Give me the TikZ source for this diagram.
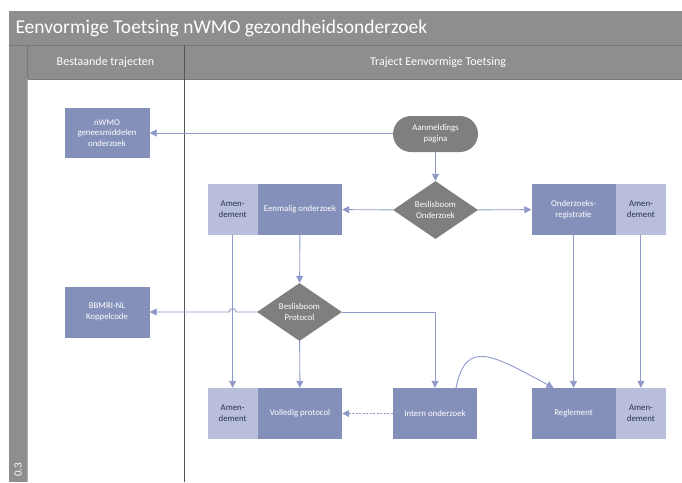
\documentclass[tikz,border=0pt]{standalone}
\usepackage{fontspec}
\setmainfont{Carlito}
\usetikzlibrary{arrows.meta}
\usetikzlibrary{positioning}
\usetikzlibrary{shapes.geometric}

\definecolor{lanegray}{HTML}{8E8E8E}
\definecolor{laneline}{HTML}{797979}
\definecolor{boxblue}{HTML}{8490BA}
\definecolor{amendblue}{HTML}{B9BFDA}
\definecolor{amendtext}{HTML}{27325A}
\definecolor{decgray}{HTML}{7F7F7F}
\definecolor{flowcol}{HTML}{8E99CA}

\begin{document}
\begin{tikzpicture}[x=1pt,y=1pt,
    proc/.style={rectangle, fill=boxblue, text=white, minimum width=84pt, minimum height=51pt,
                 inner sep=1pt, align=center, font=\fontsize{8.8}{10.8}\selectfont},
    amend/.style={rectangle, fill=amendblue, text=amendtext, minimum width=50pt, minimum height=51pt,
                  inner sep=1pt, align=center, font=\fontsize{8.8}{10.8}\selectfont},
    decision/.style={diamond, fill=decgray, text=white, minimum width=85pt, minimum height=51pt,
                     inner sep=0pt, align=center, font=\fontsize{8.8}{10.8}\selectfont},
    startbox/.style={rectangle, rounded corners=18pt, fill=decgray, text=white, minimum width=85pt,
                     minimum height=36pt, inner sep=1pt, align=center, font=\fontsize{8.8}{10.8}\selectfont},
    flow/.style={draw=flowcol, line width=0.9pt, -{Triangle[length=7pt,width=7pt]}},
    lanetext/.style={text=white, font=\fontsize{12}{14}\selectfont}]
\useasboundingbox (0,0) rectangle (682,-482);

% swimlanes
\fill[lanegray] (9,-11) rectangle (682,-45);
\fill[lanegray] (9,-45) rectangle (27,-482);
\fill[lanegray] (27,-45) rectangle (682,-79);
\draw[laneline, line width=1pt] (9,-45) -- (682,-45);
\draw[laneline, line width=0.8pt] (27,-45) -- (27,-79) (27,-79) -- (682,-79);
\draw[laneline!70!black, line width=0.8pt] (184,-45) -- (184,-482);
\draw[laneline!60, line width=0.6pt] (27,-79) -- (27,-482);
\node[anchor=west, text=white, font=\fontsize{19.5}{22}\selectfont] (title) at (12,-28) {Eenvormige Toetsing nWMO gezondheidsonderzoek};
\node[lanetext] (lane1) at (105.5,-62) {Bestaande trajecten};
\node[lanetext] (lane2) at (438,-62) {Traject Eenvormige Toetsing};
\node[text=white, rotate=90, anchor=west, inner sep=1pt, font=\fontsize{11}{13}\selectfont] (version) at (18,-478) {0.3};

% nodes
\node[proc, minimum width=85pt, minimum height=50pt] (nwmo) at (107,-133) {nWMO\\geneesmiddelen\\onderzoek};
\node[startbox] (aanm) at (435.5,-134) {Aanmeldings\\pagina};
\node[decision] (bond) at (435.5,-210) {Beslisboom\\Onderzoek};
\node[proc] (eenm) at (300,-209.5) {Eenmalig onderzoek};
\node[amend] (am1) [left=0pt of eenm] {Amen-\\dement};
\node[proc] (oreg) at (573.5,-209.5) {Onderzoeks-\\registratie};
\node[amend] (am2) [right=0pt of oreg] {Amen-\\dement};
\node[decision] (bprot) at (299.5,-312) {Beslisboom\\Protocol};
\node[proc, minimum width=85pt, minimum height=51pt] (bbmri) at (107,-312) {BBMRI-NL\\Koppelcode};
\node[proc] (vol) at (300,-413.5) {Volledig protocol};
\node[amend] (am3) [left=0pt of vol] {Amen-\\dement};
\node[proc] (intern) at (435,-413.5) {Intern onderzoek};
\node[proc] (regl) at (573.5,-413.5) {Reglement};
\node[amend] (am4) [right=0pt of regl] {Amen-\\dement};

% connectors
\coordinate (jump) at (am1.south |- bprot.west);
\draw[flow] (aanm.west |- nwmo.east) -- (nwmo.east);
\draw[flow] (aanm) -- (bond);
\draw[flow] (bond) -- (eenm);
\draw[flow] (bond) -- (oreg);
\draw[flow] (eenm) -- (bprot);
\draw[flow] (am1) -- (am3);
\draw[flow] (bprot.west) -- ([xshift=3.5pt]jump) arc[start angle=0, end angle=180, radius=3.5pt] -- (bbmri.east);
\draw[flow] (bprot) -- (vol);
\draw[flow] (bprot.east) -| (intern.north);
\draw[flow, dashed, dash pattern=on 2pt off 1.5pt] (intern) -- (vol);
\draw[flow] ([xshift=21pt]intern.north) .. controls +(10,50) and +(-60,32) .. ([xshift=-20pt]regl.north);
\draw[flow] (oreg) -- (regl);
\draw[flow] (am2) -- (am4);
\end{tikzpicture}
\end{document}
